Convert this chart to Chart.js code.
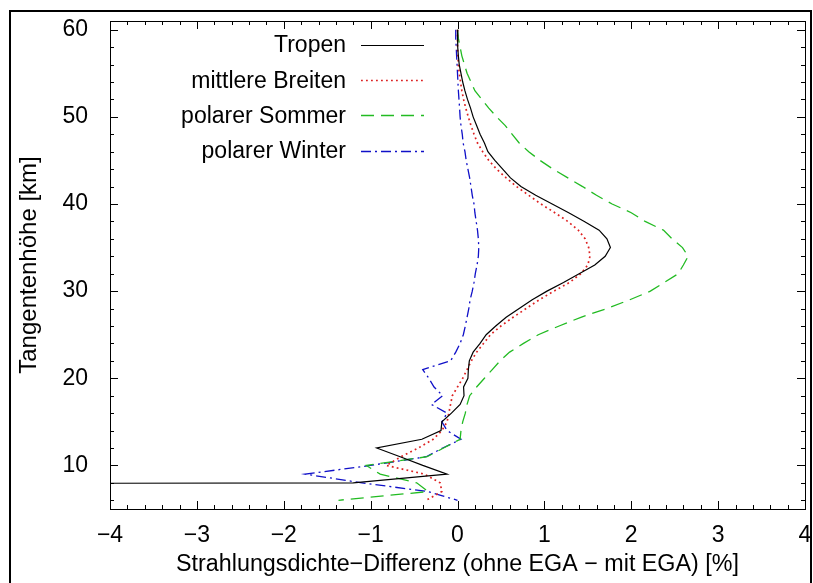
<!DOCTYPE html>
<html>
<head>
<meta charset="utf-8">
<script src="https://cdn.jsdelivr.net/npm/chart.js@4"></script>
<style>
  html, body { margin: 0; padding: 0; background: #fff; }
  #wrap { position: relative; width: 813px; height: 583px; }
</style>
</head>
<body>
<div id="wrap"><canvas id="chart" width="813" height="583"></canvas></div>
<script>
(function() {
  // Tangent heights in km, top to bottom; every series below is aligned with it
  var heights = [60, 59, 58, 57, 56, 55, 54, 53, 52, 51,
                 50, 49, 48, 47, 46, 45, 44, 43, 42, 41,
                 40, 39, 38, 37, 36, 35, 34, 33, 32, 31,
                 30, 29, 28, 27, 26, 25, 24, 23, 22, 21,
                 20, 19, 18, 17, 16, 15, 14, 13, 12, 11,
                 10, 9, 8, 7, 6];

  // radiance difference (without EGA - with EGA) in percent
  var tropen = [0, 0, 0.005, 0.01, 0.02, 0.04, 0.06, 0.085, 0.115, 0.15,
                0.18, 0.22, 0.26, 0.31, 0.35, 0.43, 0.52, 0.61, 0.73, 0.9,
                1.09, 1.28, 1.46, 1.63, 1.72, 1.76, 1.70, 1.58, 1.40, 1.22,
                1.03, 0.86, 0.71, 0.56, 0.44, 0.33, 0.26, 0.18, 0.136, 0.125,
                0.12, 0.07, 0.075, 0.03, -0.07, -0.18, -0.19, -0.41, -0.93, -0.66,
                -0.40, -0.12, -1.2, -60, null];

  var mittlereBreiten = [0, 0, 0, 0.005, 0.01, 0.02, 0.035, 0.05, 0.07, 0.095,
                         0.124, 0.155, 0.19, 0.23, 0.29, 0.36, 0.45, 0.56, 0.68, 0.82,
                         0.96, 1.12, 1.27, 1.39, 1.47, 1.51, 1.525, 1.50, 1.42, 1.29,
                         1.11, 0.94, 0.79, 0.64, 0.50, 0.38, 0.30, 0.22, 0.16, 0.11,
                         0.06, 0.0, -0.06, -0.08, -0.1, -0.12, -0.18, -0.28, -0.45, -0.65,
                         -0.82, -0.38, -0.2, -0.18, -0.36];

  var polarSommer = [0, 0.01, 0.03, 0.05, 0.08, 0.11, 0.155, 0.2, 0.28, 0.36,
                     0.45, 0.55, 0.63, 0.71, 0.82, 0.95, 1.1, 1.27, 1.44, 1.6,
                     1.78, 2.0, 2.16, 2.37, 2.47, 2.59, 2.655, 2.6, 2.54, 2.38,
                     2.22, 1.98, 1.72, 1.42, 1.17, 0.93, 0.76, 0.6, 0.49, 0.4,
                     0.31, 0.22, 0.14, 0.11, 0.09, 0.06, 0.04, 0.03, -0.16, -0.35,
                     -1.05, -0.89, -0.47, -0.34, -1.37];

  var polarWinter = [-0.02, -0.02, -0.015, -0.01, -0.005, 0.0, 0.005, 0.01, 0.017, 0.024,
                     0.03, 0.04, 0.055, 0.065, 0.086, 0.1, 0.12, 0.14, 0.155, 0.17,
                     0.19, 0.2, 0.215, 0.23, 0.24, 0.245, 0.24, 0.225, 0.205, 0.19,
                     0.17, 0.145, 0.13, 0.11, 0.09, 0.067, 0.03, -0.02, -0.08, -0.4,
                     -0.33, -0.27, -0.17, -0.3, -0.12, -0.18, -0.12, 0.04, -0.17, -0.36,
                     -1.0, -1.75, -1.1, -0.34, 0.0];

  var seriesNames = ["Tropen", "mittlere Breiten", "polarer Sommer", "polarer Winter"];
  var xTicks = [-4, -3, -2, -1, 0, 1, 2, 3, 4];
  var yTicks = [10, 20, 30, 40, 50, 60];
  var xMinorStep = 0.2;
  var yMinorStep = 2;

  var FONT = "'Liberation Sans', Arial, Helvetica, sans-serif";

  var toPoints = function(values) {
    return heights.map(function(h, i) {
      return { x: values[i], y: h };
    });
  };

  var fmtMinus = function(v) {
    return v < 0 ? "\u2212" + Math.abs(v) : String(v);
  };

  // gnuplot style frame: inward ticks mirrored on all four sides
  var framePlugin = {
    id: "frameTicks",
    afterDraw: function(chart) {
      var ctx = chart.ctx, a = chart.chartArea;
      var xs = chart.scales.x, ys = chart.scales.y;
      var v, px, py, len;
      ctx.save();
      ctx.strokeStyle = "#000";
      ctx.lineWidth = 1;
      ctx.beginPath();
      for (v = xs.min; v <= xs.max + 1e-9; v += xMinorStep) {
        v = Math.round(v * 10) / 10;
        px = Math.round(xs.getPixelForValue(v)) + 0.5;
        len = xTicks.indexOf(v) >= 0 ? 8 : 4;
        ctx.moveTo(px, a.bottom); ctx.lineTo(px, a.bottom - len);
        ctx.moveTo(px, a.top); ctx.lineTo(px, a.top + len);
      }
      for (v = 6; v <= ys.max; v += yMinorStep) {
        py = Math.round(ys.getPixelForValue(v)) + 0.5;
        len = yTicks.indexOf(v) >= 0 ? 8 : 4;
        ctx.moveTo(a.left, py); ctx.lineTo(a.left + len, py);
        ctx.moveTo(a.right, py); ctx.lineTo(a.right - len, py);
      }
      ctx.stroke();
      ctx.strokeRect(Math.round(a.left) + 0.5, Math.round(a.top) + 0.5,
                     Math.round(a.right - a.left), Math.round(a.bottom - a.top));

      // outer page frame
      ctx.lineWidth = 2;
      ctx.strokeRect(10, 11, 801, 620);

      // key in the upper left of the plot
      ctx.font = "23px " + FONT;
      ctx.textAlign = "right";
      ctx.textBaseline = "middle";
      ctx.fillStyle = "#000";
      chart.data.datasets.forEach(function(ds, i) {
        var y = a.top + 24 + i * 35.2;
        ctx.fillText(ds.label, a.left + 236, y + 1);
        ctx.strokeStyle = ds.borderColor;
        ctx.lineWidth = ds.borderWidth;
        ctx.setLineDash(ds.borderDash || []);
        ctx.beginPath();
        ctx.moveTo(a.left + 251, Math.round(y) + 0.5);
        ctx.lineTo(a.left + 314, Math.round(y) + 0.5);
        ctx.stroke();
        ctx.setLineDash([]);
      });
      ctx.restore();
    }
  };

  var makeSet = function(label, values, color, dash, width) {
    return {
      label: label,
      data: toPoints(values),
      showLine: true,
      borderColor: color,
      backgroundColor: color,
      borderWidth: width,
      borderDash: dash,
      pointRadius: 0,
      tension: 0,
      spanGaps: false
    };
  };

  new Chart(document.getElementById("chart"), {
    type: "scatter",
    data: {
      datasets: [
        makeSet(seriesNames[0], tropen, "#000000", [], 1.2),
        makeSet(seriesNames[1], mittlereBreiten, "#dd2222", [1.8, 3.2], 1.7),
        makeSet(seriesNames[2], polarSommer, "#22bb22", [13, 7], 1.3),
        makeSet(seriesNames[3], polarWinter, "#1010c8", [10, 4, 2, 4], 1.3)
      ]
    },
    options: {
      responsive: false,
      animation: false,
      layout: { padding: { left: 0, top: 21, right: 8, bottom: 0 } },
      plugins: {
        legend: { display: false },
        tooltip: { enabled: false }
      },
      scales: {
        x: {
          type: "linear",
          min: -4,
          max: 4,
          afterFit: function(s) {
            s.height = 74;
            s.paddingLeft = 0;
            s.paddingRight = 0;
          },
          afterBuildTicks: function(s) {
            s.ticks = xTicks.map(function(v) { return { value: v }; });
          },
          grid: { display: false },
          border: { display: false },
          ticks: {
            padding: 5,
            color: "#000",
            font: { family: FONT, size: 23 },
            maxRotation: 0,
            callback: function(v) { return fmtMinus(v); }
          },
          title: {
            display: true,
            text: "Strahlungsdichte\u2212Differenz (ohne EGA \u2212 mit EGA) [%]",
            color: "#000",
            font: { family: FONT, size: 23.3 },
            padding: { top: 0, bottom: 4 }
          }
        },
        y: {
          type: "linear",
          min: 5,
          max: 61,
          afterFit: function(s) {
            s.width = 110;
            s.paddingTop = 0;
            s.paddingBottom = 0;
          },
          afterBuildTicks: function(s) {
            s.ticks = yTicks.map(function(v) { return { value: v }; });
          },
          grid: { display: false },
          border: { display: false },
          ticks: {
            padding: 14,
            color: "#000",
            font: { family: FONT, size: 23 }
          },
          title: {
            display: true,
            text: "Tangentenh\u00f6he [km]",
            color: "#000",
            font: { family: FONT, size: 24 },
            padding: { top: 15, bottom: 0 }
          }
        }
      }
    },
    plugins: [framePlugin]
  });
}).call(this);
</script>
</body>
</html>
